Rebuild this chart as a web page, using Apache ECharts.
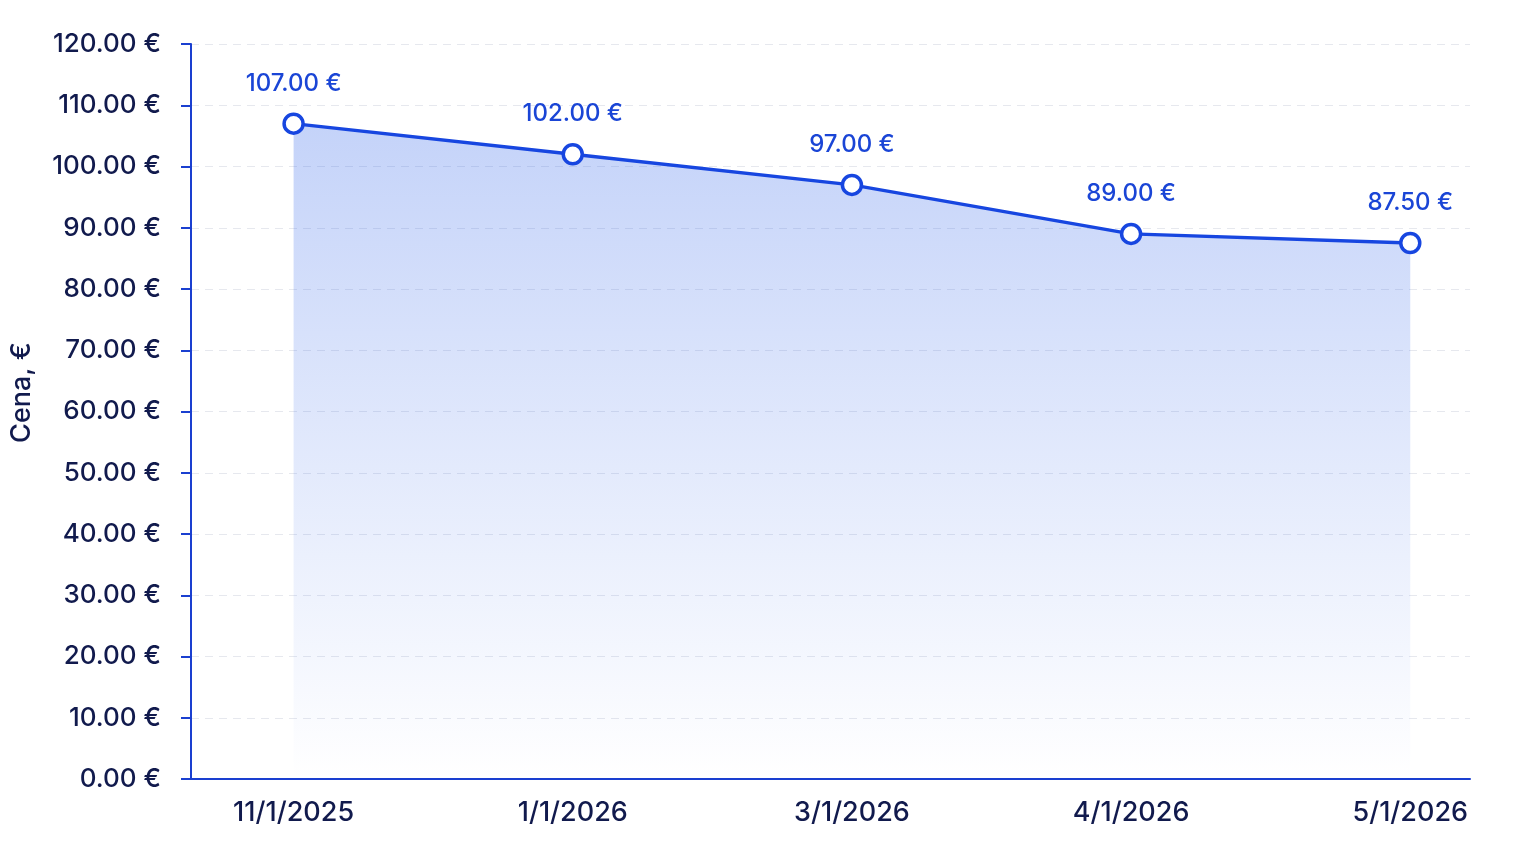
<!DOCTYPE html>
<html><head><meta charset="utf-8">
<script src="https://cdn.jsdelivr.net/npm/echarts@6/dist/echarts.min.js"></script>
<style>html,body{margin:0;padding:0;background:#fff}#c{width:1536px;height:858px}</style>
</head><body><div id="c"></div>
<script>
const categories = ['11/1/2025', '1/1/2026', '3/1/2026', '4/1/2026', '5/1/2026'];
const prices = [107.00, 102.00, 97.00, 89.00, 87.50];
const yTicks = [0, 10, 20, 30, 40, 50, 60, 70, 80, 90, 100, 110, 120];

const chart = echarts.init(document.getElementById('c'));
const font = 'Inter, "Noto Sans", sans-serif';
chart.setOption({
  backgroundColor: '#ffffff',
  animation: false,
  grid: { left: 186, right: 66, top: 44, bottom: 79, containLabel: false },
  xAxis: {
    type: 'value', min: -0.3675, max: 4.214,
    axisLine: { show: true, onZero: false, lineStyle: { color: '#1a3fd0', width: 2 } },
    axisTick: { show: false },
    splitLine: { show: false },
    axisLabel: {
      customValues: categories.map((c, i) => i),
      formatter: v => categories[Math.round(v)] || '',
      color: '#111a4d', fontFamily: font, fontSize: 27, fontWeight: 500, margin: 20
    }
  },
  yAxis: {
    type: 'value', min: 0, max: 120, interval: 10,
    name: 'Cena, €', nameLocation: 'middle', nameGap: 156, nameRotate: 90,
    nameTextStyle: { color: '#111a4d', fontFamily: font, fontSize: 27, fontWeight: 500, padding: [0, 0, 0, 38] },
    axisLine: { show: true, onZero: false, lineStyle: { color: '#1a3fd0', width: 2 } },
    axisTick: { show: true, length: 10, lineStyle: { color: '#1a3fd0', width: 2 } },
    splitLine: { show: true, lineStyle: { color: '#e6e8ee', type: [8, 6], width: 1 } },
    axisLabel: {
      customValues: yTicks,
      formatter: v => v.toFixed(2) + ' €',
      color: '#111a4d', fontFamily: font, fontSize: 26, fontWeight: 500, margin: 30
    }
  },
  series: [{
    type: 'line',
    data: prices.map((v, i) => [i, v]),
    symbol: 'circle', symbolSize: 19,
    itemStyle: { color: '#ffffff', borderColor: '#1746e0', borderWidth: 3.5 },
    lineStyle: { color: '#1746e0', width: 3.5 },
    areaStyle: {
      color: new echarts.graphic.LinearGradient(0, 0, 0, 1, [
        { offset: 0, color: 'rgba(55,105,235,0.42)' },
        { offset: 1, color: 'rgba(55,105,235,0.0)' }
      ])
    },
    label: {
      show: true, position: 'top', distance: 17,
      formatter: p => p.value[1].toFixed(2) + ' €',
      color: '#1a45d6', fontFamily: font, fontSize: 24, fontWeight: 500
    }
  }]
});
</script></body></html>
